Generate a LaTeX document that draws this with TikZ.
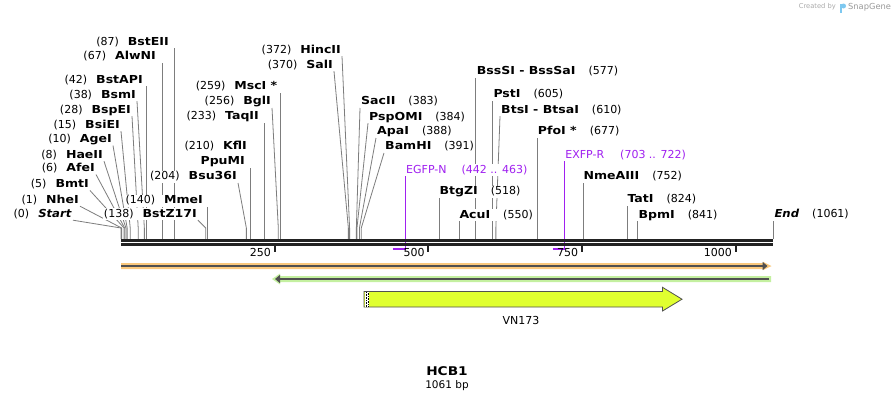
\documentclass[tikz,border=0pt]{standalone}
\usepackage{fontspec}
\setmainfont{DejaVu Sans}[BoldFeatures={FakeStretch=1.14},
  BoldItalicFeatures={FakeStretch=1.06}]
\usetikzlibrary{arrows.meta, backgrounds}
\definecolor{sitegray}{RGB}{125,125,125}
\definecolor{rulerblack}{RGB}{34,34,34}
\definecolor{primerpurple}{RGB}{160,32,240}
\definecolor{featorange}{RGB}{250,200,125}
\definecolor{featgreen}{RGB}{196,240,160}
\definecolor{featdark}{RGB}{80,80,80}
\definecolor{featyellow}{RGB}{224,255,48}
\definecolor{logogray}{RGB}{170,170,170}
\definecolor{logoblue}{RGB}{125,200,240}
\newcommand{\lsite}[2]{(#1)\hspace{9pt}\textbf{#2}}
\newcommand{\rsite}[2]{\textbf{#1}\hspace{13pt}(#2)}
\tikzset{
  sitelabel/.style   = {fill=white, inner sep=1pt,
                        text height=8pt, text depth=2pt},
  leftlabel/.style   = {sitelabel, anchor=east},
  rightlabel/.style  = {sitelabel, anchor=west},
  primerlabel/.style = {rightlabel, text=primerpurple},
  siteline/.style    = {draw=sitegray, line width=0.8pt},
  primerline/.style  = {draw=primerpurple, line width=1.4pt},
  rulerline/.style   = {draw=rulerblack, line width=2.7pt},
  tickmark/.style    = {draw=rulerblack, line width=2pt},
  ticklabel/.style   = {anchor=east, inner sep=1pt},
  featline/.style    = {draw=featdark, line width=1.8pt}
}
\begin{document}
\begin{tikzpicture}
  [
    x                 = 1pt,
    y                 = -1pt,
    every node/.style = {font=\fontsize{11}{13}\selectfont}
  ]
  \useasboundingbox (0,0) rectangle (896,402);

  % cut sites on the ruler
  \foreach \n/\bp in {Start/0, NheI/1, BmtI/5, AfeI/6, HaeII/8, AgeI/10,
      BsiEI/15, BspEI/28, BsmI/38, BstAPI/42, AlwNI/67, BstEII/87,
      BstZ17I/138, MmeI/140, Bsu36I/204, KflI/210, TaqII/233, BglI/256,
      MscI/259, SalI/370, HincII/372, SacII/383, PspOMI/384, ApaI/388,
      BamHI/391, BtgZI/518, AcuI/550, BssSI/577, PstI/605, BtsI/610,
      PfoI/677, NmeAIII/752, TatI/824, BpmI/841, End/1061}
    \coordinate (s-\n) at ({121+\bp*0.6145},239);
  \coordinate (p-EGFP)   at (405.5,249);
  \coordinate (p-EGFP-5) at (392.6,249);
  \coordinate (p-EXFP)   at (564.7,249);
  \coordinate (p-EXFP-5) at (553,249);

  % labels left of their sites
  \node [leftlabel] (l-Start)   at (73,214)    {\lsite{0}{\textit{Start}}};
  \node [leftlabel] (l-NheI)    at (80,200)    {\lsite{1}{NheI}};
  \node [leftlabel] (l-BmtI)    at (90,184.3)  {\lsite{5}{BmtI}};
  \node [leftlabel] (l-AfeI)    at (96,168.3)  {\lsite{6}{AfeI}};
  \node [leftlabel] (l-HaeII)   at (104,155)   {\lsite{8}{HaeII}};
  \node [leftlabel] (l-AgeI)    at (113,139.3) {\lsite{10}{AgeI}};
  \node [leftlabel] (l-BsiEI)   at (121,125)   {\lsite{15}{BsiEI}};
  \node [leftlabel] (l-BspEI)   at (132,110)   {\lsite{28}{BspEI}};
  \node [leftlabel] (l-BsmI)    at (137,95)    {\lsite{38}{BsmI}};
  \node [leftlabel] (l-BstAPI)  at (144,80)    {\lsite{42}{BstAPI}};
  \node [leftlabel] (l-AlwNI)   at (157,56.7)  {\lsite{67}{AlwNI}};
  \node [leftlabel] (l-BstEII)  at (170,42)    {\lsite{87}{BstEII}};
  \node [leftlabel] (l-BstZ17I) at (198,214)   {\lsite{138}{BstZ17I}};
  \node [leftlabel] (l-MmeI)    at (204,200.7) {\lsite{140}{MmeI}};
  \node [leftlabel] (l-Bsu36I)  at (238,176.7) {\lsite{204}{Bsu36I}};
  \node [leftlabel] (l-PpuMI)   at (246,161.7) {\textbf{PpuMI}};
  \node [leftlabel] (l-KflI)    at (248,146.7) {\lsite{210}{KflI}};
  \node [leftlabel] (l-TaqII)   at (260,116.7) {\lsite{233}{TaqII}};
  \node [leftlabel] (l-BglI)    at (272,101.7) {\lsite{256}{BglI}};
  \node [leftlabel] (l-MscI)    at (278.5,86.7) {\lsite{259}{MscI *}};
  \node [leftlabel] (l-SalI)    at (334,65)    {\lsite{370}{SalI}};
  \node [leftlabel] (l-HincII)  at (342,50)    {\lsite{372}{HincII}};

  % labels right of their sites
  \node [rightlabel] (l-SacII)   at (360,101.7) {\rsite{SacII}{383}};
  \node [rightlabel] (l-PspOMI)  at (368,117)   {\rsite{PspOMI}{384}};
  \node [rightlabel] (l-ApaI)    at (376,131.7) {\rsite{ApaI}{388}};
  \node [rightlabel] (l-BamHI)   at (384,146.7) {\rsite{BamHI}{391}};
  \node [rightlabel] (l-BtgZI)   at (438.3,191.7) {\rsite{BtgZI}{518}};
  \node [rightlabel] (l-AcuI)    at (458.3,215) {\rsite{AcuI}{550}};
  \node [rightlabel] (l-BssSI)   at (475.6,71.7) {\rsite{BssSI - BssSaI}{577}};
  \node [rightlabel] (l-PstI)    at (492.3,94.3) {\rsite{PstI}{605}};
  \node [rightlabel] (l-BtsI)    at (500,110)   {\rsite{BtsI - BtsaI}{610}};
  \node [rightlabel] (l-PfoI)    at (536.7,131.7) {\rsite{PfoI *}{677}};
  \node [rightlabel] (l-NmeAIII) at (582.3,176.7) {\rsite{NmeAIII}{752}};
  \node [rightlabel] (l-TatI)    at (626.3,199.3) {\rsite{TatI}{824}};
  \node [rightlabel] (l-BpmI)    at (637.3,215) {\rsite{BpmI}{841}};
  \node [rightlabel] (l-End)     at (773.3,214.3) {\rsite{\textit{End}}{1061}};
  \node [primerlabel] (l-EGFP)   at (405,170)   {EGFP-N\hspace{15pt}(442 .. 463)};
  \node [primerlabel] (l-EXFP)   at (564.2,155) {EXFP-R\hspace{16pt}(703 .. 722)};

  \begin{scope}[on background layer]
    \fill [white] (0,0) rectangle (896,402);
    \foreach \n in {Start, NheI, BmtI, AfeI, HaeII, AgeI, BsiEI, BspEI,
        BsmI, BstZ17I, Bsu36I, BglI, SalI, HincII}
      \draw [siteline] (l-\n.south east) -- ([yshift=11pt]s-\n) -- (s-\n);
    \foreach \n in {SacII, PspOMI, ApaI, BamHI, BtsI}
      \draw [siteline] (l-\n.south west) -- ([yshift=11pt]s-\n) -- (s-\n);
    \foreach \n in {BstEII, AlwNI, BstAPI, MmeI, TaqII, MscI, BssSI, PstI,
        PfoI, NmeAIII, TatI, BpmI, BtgZI, AcuI, End}
      \draw [siteline] (s-\n) -- (s-\n |- l-\n.south);
    \draw [siteline] (s-KflI) -- (s-KflI |- l-PpuMI.south);
    % primers
    \draw [primerline] (p-EGFP |- l-EGFP.south) -- (p-EGFP) -- (p-EGFP-5);
    \draw [primerline] (p-EXFP |- l-EXFP.south) -- (p-EXFP) -- (p-EXFP-5);
  \end{scope}

  % ruler
  \coordinate (r-left)  at (121,240.3);
  \coordinate (r-right) at (773,240.3);
  \draw [rulerline] (r-left) -- (r-right);
  \draw [rulerline] ([yshift=-4pt]r-left) -- ([yshift=-4pt]r-right);
  \foreach \t in {250,500,750,1000} {
    \draw [tickmark] ({121+\t*0.6145},245.5) -- ++(0,6.5);
    \node [ticklabel] (tk-\t) at ({121+\t*0.6145-2.5},252) {\t};
  }

  % features
  \fill [featorange] (121,263) -- (763,263) -- (763,261.8) -- (771.5,266)
    -- (763,270.2) -- (763,269) -- (121,269) -- cycle;
  \draw [featline, -{Triangle[length=5pt,width=8pt]}] (121,266) -- (767.5,266);
  \fill [featgreen] (771,276) -- (280,276) -- (280,273.5) -- (272,279)
    -- (280,284.5) -- (280,282) -- (771,282) -- cycle;
  \draw [featline, -{Triangle[length=5pt,width=8pt]}] (769,279) -- (275,279);
  \draw [draw=featdark, fill=featyellow, line width=0.8pt]
    (364,291.5) -- (662.5,291.5) -- (662.5,287.3) -- (682,299.2)
    -- (662.5,311) -- (662.5,307) -- (364,307) -- cycle;
  \fill [white] (365,292) rectangle (369,306.5);
  \draw [black, line width=0.8pt, dash pattern=on 0.8pt off 0.8pt]
    (366,292) -- (366,306.5) (368,292.8) -- (368,306.5);
  \node (vn173) at (521,320.5) {VN173};

  % title
  \node [font=\fontsize{12}{14}\selectfont\bfseries] (title) at (447,371.5) {HCB1};
  \node [font=\fontsize{10.5}{12}\selectfont] (length) at (447,385.5) {1061 bp};

  % credit
  \node [font=\fontsize{6.7}{8}\selectfont, text=logogray, anchor=east, inner sep=0pt]
    (credit) at (836,7) {Created by};
  \fill [logoblue] (840,3.5) rectangle (842.3,12.5);
  \fill [logoblue] (843.5,6) circle (2.5pt);
  \node [font=\fontsize{8.3}{10}\selectfont, text=logogray!90!black, anchor=west, inner sep=0pt]
    (brand) at (848,7) {SnapGene};
\end{tikzpicture}
\end{document}
